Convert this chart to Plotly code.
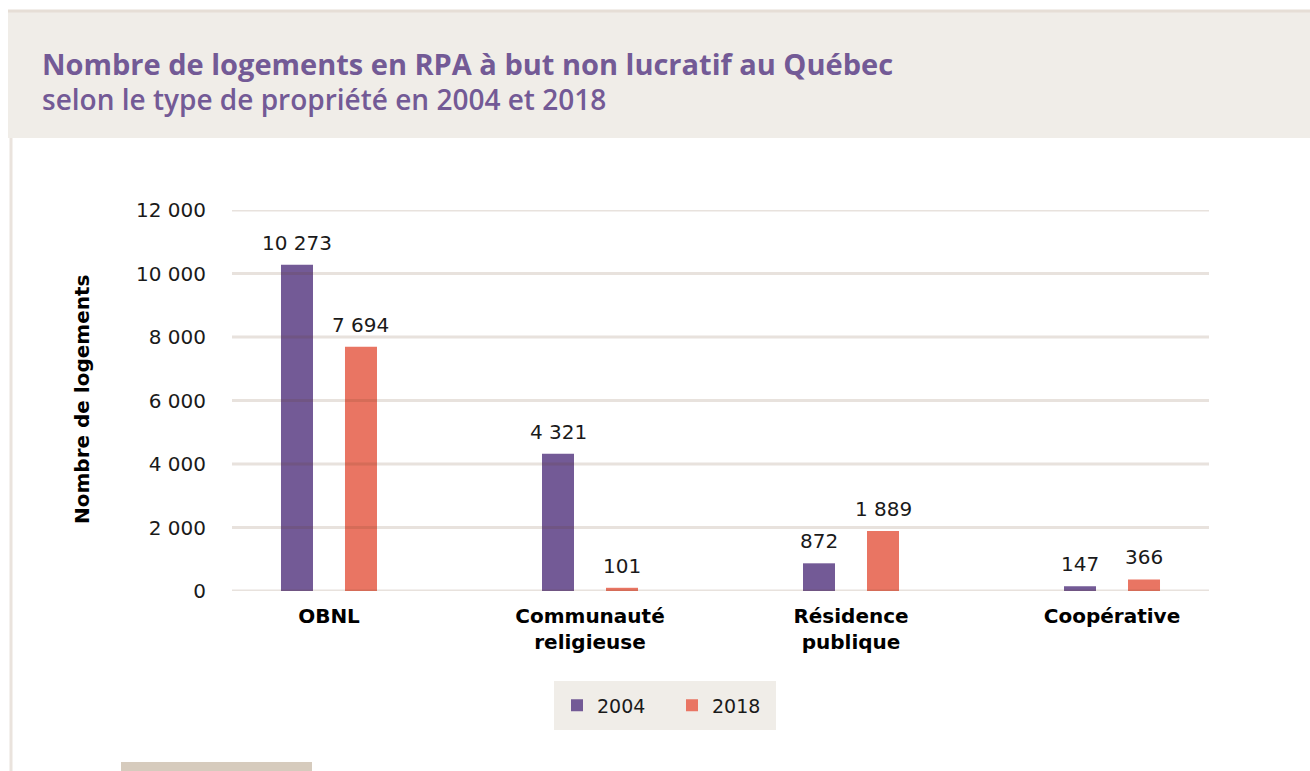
import plotly.graph_objects as go

# ---- data ----
categories = ["OBNL", "Communauté<br>religieuse", "Résidence<br>publique", "Coopérative"]
values_2004 = [10273, 4321, 872, 147]
values_2018 = [7694, 101, 1889, 366]
series_names = ["2004", "2018"]
y_ticks = [0, 2000, 4000, 6000, 8000, 10000, 12000]

title_main = "Nombre de logements en RPA à but non lucratif au Québec"
title_sub = "selon le type de propriété en 2004 et 2018"
y_title = "Nombre de logements"

# ---- style ----
W, H = 1310, 771
L, R, T, B = 232, 1209, 210, 591
PURPLE = "#735A96"
CORAL = "#E97563"
BEIGE = "#F0EDE8"
GRID = "rgba(100,60,30,0.15)"
FONT = "DejaVu Sans, Verdana, sans-serif"


def px(x):
    return (x - L) / (R - L)


def py(y):
    return (B - y) / (B - T)


step = 261.0
bw = 32 / step

fig = go.Figure()
annotations = []
for name, vals, col, off in [(series_names[0], values_2004, PURPLE, -48 / step),
                             (series_names[1], values_2018, CORAL, 16 / step)]:
    fig.add_trace(go.Bar(
        x=categories, y=vals, name=name,
        marker=dict(color=col, line=dict(width=0)),
        width=bw, offset=off, cliponaxis=False,
    ))
    # value labels above the bars
    for i, v in enumerate(vals):
        annotations.append(dict(
            x=i + off + bw / 2, y=v, xref="x", yref="y", text=f"{v:,}".replace(",", " "),
            showarrow=False, xanchor="center", yanchor="bottom", yshift=8,
            font=dict(family=FONT, size=20, color="#1a1a1a")))

shapes = [
    # header band
    dict(type="rect", xref="paper", yref="paper", x0=px(8), x1=px(1315), y0=py(138), y1=py(11),
         fillcolor=BEIGE, line=dict(width=0), layer="below"),
    dict(type="line", xref="paper", yref="paper", x0=px(8), x1=px(1315), y0=py(11), y1=py(11),
         line=dict(color="#E6DED6", width=3), layer="below"),
    # left border
    dict(type="line", xref="paper", yref="paper", x0=px(11), x1=px(11), y0=py(138), y1=py(775),
         line=dict(color="#EAE3DD", width=3), layer="below"),
    # bottom caption box
    dict(type="rect", xref="paper", yref="paper", x0=px(121), x1=px(312), y0=py(775), y1=py(762),
         fillcolor="#D6CBBD", line=dict(width=0), layer="below"),
    # legend box
    dict(type="rect", xref="paper", yref="paper", x0=px(554), x1=px(776), y0=py(730), y1=py(681),
         fillcolor=BEIGE, line=dict(width=0), layer="below"),
]
# gridlines drawn above the bars (translucent)
for v in y_ticks:
    shapes.append(dict(type="line", xref="paper", yref="y", x0=0, x1=1, y0=v, y1=v,
                       line=dict(color=GRID, width=3), layer="above"))

annotations += [
    dict(text="<b>" + title_main + "</b>", xref="paper", yref="paper", x=px(40), y=py(63),
         xanchor="left", yanchor="middle", showarrow=False,
         font=dict(family="Open Sans, sans-serif", size=29, color=PURPLE, weight=800)),
    dict(text=title_sub, xref="paper", yref="paper", x=px(40), y=py(99),
         xanchor="left", yanchor="middle", showarrow=False,
         font=dict(family="Open Sans, sans-serif", size=28, color=PURPLE, weight=600)),
    dict(text="<b>" + y_title + "</b>", xref="paper", yref="paper", x=px(82), y=py(400),
         xanchor="center", yanchor="middle", showarrow=False, textangle=-90,
         font=dict(family=FONT, size=20, color="#000000")),
]

fig.update_layout(
    width=W, height=H,
    margin=dict(l=L, r=W - R, t=T, b=H - B, pad=0),
    paper_bgcolor="white", plot_bgcolor="white",
    separators=", ",
    barmode="overlay",
    showlegend=True,
    legend=dict(orientation="h", x=px(557), y=py(705.5), xanchor="left", yanchor="middle",
                bgcolor="rgba(0,0,0,0)", font=dict(family=FONT, size=19, color="#1a1a1a"),
                entrywidth=70, entrywidthmode="pixels", borderwidth=0,
                traceorder="normal"),
    xaxis=dict(range=[-0.3716, 3.3716], showgrid=False, zeroline=False, showline=False,
               ticks="", tickfont=dict(family=FONT, size=20, color="#000000", weight="bold"),
               ticklabelstandoff=11, fixedrange=True),
    yaxis=dict(range=[0, 12000], tickvals=y_ticks, tickformat=",", showgrid=False,
               zeroline=False, showline=False, ticks="", ticklabelstandoff=25,
               tickfont=dict(family=FONT, size=20, color="#1a1a1a"), fixedrange=True),
    shapes=shapes,
    annotations=annotations,
    font=dict(family=FONT),
)

fig.write_html("out.html", config={"displayModeBar": False},
               post_script="document.body.style.margin='0px';")
